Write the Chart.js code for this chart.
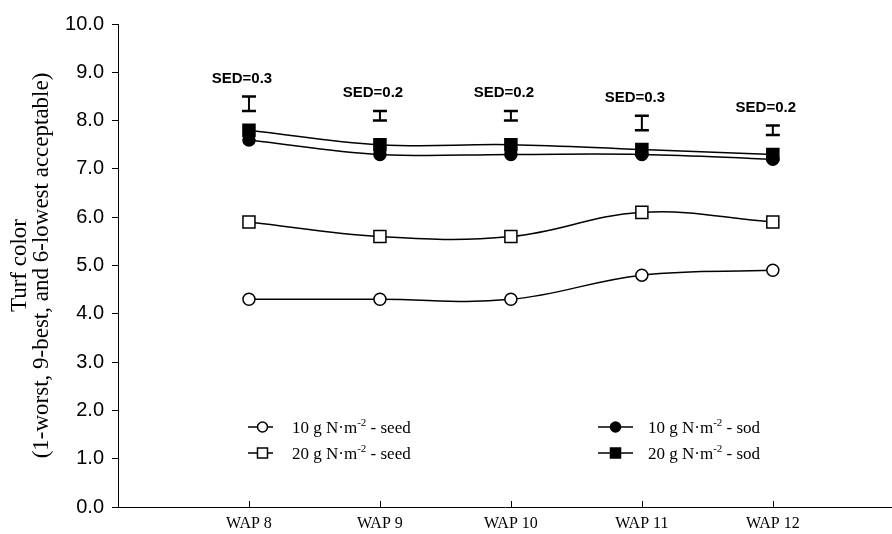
<!DOCTYPE html>
<html>
<head>
<meta charset="utf-8">
<script src="https://cdn.jsdelivr.net/npm/chart.js@4.4.1/dist/chart.umd.min.js"></script>
<style>
  html, body { margin: 0; padding: 0; background: #fff; }
  #wrap { width: 892px; height: 534px; }
</style>
</head>
<body>
<div id="wrap"><canvas id="chart"></canvas></div>
<script>
// weeks after planting
const categories = ['WAP 8', 'WAP 9', 'WAP 10', 'WAP 11', 'WAP 12']
const firstWeek = 8

const seed10 = [4.3, 4.3, 4.3, 4.8, 4.9]
const seed20 = [5.9, 5.6, 5.6, 6.1, 5.9]
const sod10 = [7.6, 7.3, 7.3, 7.3, 7.2]
const sod20 = [7.8, 7.5, 7.5, 7.4, 7.3]

// SED bars: bottom of each bar and its length
const sedBase = [8.2, 8.0, 8.0, 7.8, 7.7]
const sedValues = [0.3, 0.2, 0.2, 0.3, 0.2]

const yTicks = [0, 1, 2, 3, 4, 5, 6, 7, 8, 9, 10]

const serif = "'Times New Roman', 'Liberation Serif', serif"
const sans = "Arial, 'Liberation Sans', sans-serif"

const points = values => values.map((y, i) => ({ x: firstWeek + i, y }))

const series = (label, values, style, fill, radius, order) => ({
  label,
  data: points(values),
  borderColor: '#000',
  borderWidth: 1.5,
  tension: 0.4,
  pointStyle: style,
  pointRadius: radius,
  pointHoverRadius: radius,
  pointBackgroundColor: fill,
  pointBorderColor: '#000',
  pointBorderWidth: 1.5,
  order
})

const datasets = [
  series('10 g N·m-2 - seed', seed10, 'circle', '#fff', 6, 4),
  series('20 g N·m-2 - seed', seed20, 'rect', '#fff', 8.5, 3),
  series('10 g N·m-2 - sod', sod10, 'circle', '#000', 6, 2),
  series('20 g N·m-2 - sod', sod20, 'rect', '#000', 8.5, 1)
]

// small ticks pointing up from the x axis
const innerTicks = {
  id: 'innerTicks',
  afterDraw(chart) {
    const { ctx, scales: { x }, chartArea } = chart
    ctx.save()
    ctx.strokeStyle = '#000'
    ctx.lineWidth = 1
    x.ticks.forEach(t => {
      const px = Math.round(x.getPixelForValue(t.value)) + 0.5
      ctx.beginPath()
      ctx.moveTo(px, chartArea.bottom)
      ctx.lineTo(px, chartArea.bottom - 6)
      ctx.stroke()
    })
    ctx.restore()
  }
}

const sedBars = {
  id: 'sedBars',
  afterDatasetsDraw(chart) {
    const { ctx, scales: { x, y } } = chart
    ctx.save()
    ctx.strokeStyle = '#000'
    ctx.fillStyle = '#000'
    sedValues.forEach((sed, i) => {
      const px = x.getPixelForValue(firstWeek + i)
      const lo = y.getPixelForValue(sedBase[i])
      const hi = y.getPixelForValue(sedBase[i] + sed)
      ctx.lineWidth = 2
      ctx.beginPath()
      ctx.moveTo(px, lo)
      ctx.lineTo(px, hi)
      ctx.stroke()
      ctx.lineWidth = 2.5
      ctx.beginPath()
      ctx.moveTo(px - 7, lo)
      ctx.lineTo(px + 7, lo)
      ctx.moveTo(px - 7, hi)
      ctx.lineTo(px + 7, hi)
      ctx.stroke()
      ctx.font = 'bold 15px ' + sans
      ctx.textAlign = 'center'
      ctx.textBaseline = 'middle'
      ctx.fillText('SED=' + sed.toFixed(1), px - 7, hi - 18)
    })
    ctx.restore()
  }
}

// two-column legend inside the plot, with superscript units
const legendSpots = [
  { x: 248, y: 427 }, { x: 248, y: 453 },
  { x: 598, y: 427 }, { x: 598, y: 453 }
]

const innerLegend = {
  id: 'innerLegend',
  afterDraw(chart) {
    const { ctx } = chart
    ctx.save()
    chart.data.datasets.forEach((ds, i) => {
      const spot = legendSpots[i]
      const wide = ds.pointBackgroundColor === '#000'
      const len = wide ? 35 : 25
      ctx.strokeStyle = '#000'
      ctx.lineWidth = 1.5
      ctx.beginPath()
      ctx.moveTo(spot.x, spot.y)
      ctx.lineTo(spot.x + len, spot.y)
      ctx.stroke()
      const mx = spot.x + len / 2 + (wide ? 0 : 2)
      ctx.fillStyle = ds.pointBackgroundColor
      ctx.beginPath()
      if (ds.pointStyle === 'circle') {
        ctx.arc(mx, spot.y, 5, 0, Math.PI * 2)
      } else {
        ctx.rect(mx - 5, spot.y - 5, 10, 10)
      }
      ctx.fill()
      ctx.stroke()

      const m = ds.label.match(/^(.*m)(-2)(.*)$/)
      let tx = spot.x + (wide ? 50 : 44)
      ctx.fillStyle = '#000'
      ctx.textBaseline = 'alphabetic'
      ctx.textAlign = 'left'
      ctx.font = '17px ' + serif
      ctx.fillText(m[1], tx, spot.y + 6)
      tx += ctx.measureText(m[1]).width
      ctx.font = '11px ' + serif
      ctx.fillText(m[2], tx, spot.y - 1)
      tx += ctx.measureText(m[2]).width
      ctx.font = '17px ' + serif
      ctx.fillText(m[3], tx, spot.y + 6)
    })
    ctx.restore()
  }
}

new Chart(document.getElementById('chart').getContext('2d'), {
  type: 'line',
  data: { datasets },
  options: {
    responsive: true,
    maintainAspectRatio: false,
    animation: false,
    events: [],
    layout: { autoPadding: false, padding: { top: 24, right: 0, left: 0, bottom: 0 } },
    plugins: {
      legend: { display: false },
      tooltip: { enabled: false }
    },
    scales: {
      x: {
        type: 'linear',
        min: 7,
        max: 12.91,
        afterFit: s => {
          s.height = 27
          s.paddingLeft = 0
          s.paddingRight = 0
        },
        afterBuildTicks: s => {
          s.ticks = categories.map((c, i) => ({ value: firstWeek + i }))
        },
        ticks: {
          color: '#000',
          padding: 7,
          maxRotation: 0,
          autoSkip: false,
          font: { family: serif, size: 16 },
          callback: v => categories[v - firstWeek]
        },
        grid: { display: false, drawTicks: false },
        border: { display: true, color: '#000', width: 1 }
      },
      y: {
        min: 0,
        max: 10,
        afterFit: s => { s.width = 118 },
        afterBuildTicks: s => {
          s.ticks = yTicks.map(v => ({ value: v }))
        },
        ticks: {
          color: '#000',
          padding: 8,
          font: { family: sans, size: 20 },
          callback: v => v.toFixed(1)
        },
        grid: { drawOnChartArea: false, tickLength: 6, color: '#000' },
        border: { display: true, color: '#000', width: 1 },
        title: {
          display: true,
          text: ['Turf color', '(1-worst, 9-best, and 6-lowest acceptable)'],
          color: '#000',
          font: { family: serif, size: 23, lineHeight: 0.96 },
          padding: { top: 9, bottom: 0 }
        }
      }
    }
  },
  plugins: [innerTicks, sedBars, innerLegend]
})
</script>
</body>
</html>
